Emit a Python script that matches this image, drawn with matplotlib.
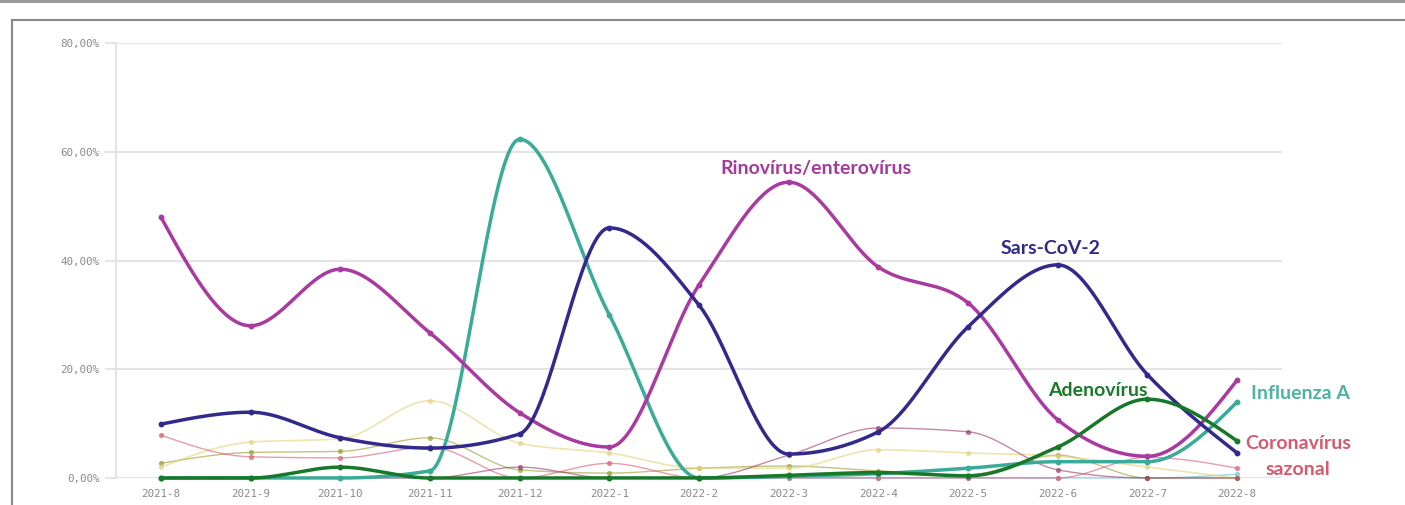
import numpy as np
import matplotlib.pyplot as plt
from matplotlib.lines import Line2D
from matplotlib.patches import Rectangle

months = ['2021-8', '2021-9', '2021-10', '2021-11', '2021-12', '2022-1', '2022-2',
          '2022-3', '2022-4', '2022-5', '2022-6', '2022-7', '2022-8']

# percentages
rino = [48.0, 28.0, 38.4, 26.7, 12.0, 5.7, 35.5, 54.4, 38.8, 32.2, 10.7, 4.0, 18.0]
sars = [9.9, 12.1, 7.4, 5.5, 8.1, 46.0, 31.8, 4.4, 8.5, 27.8, 39.2, 19.0, 4.6]
flu_a = [0, 0, 0, 1.3, 62.3, 30.0, 0, 0.3, 0.8, 1.8, 3.0, 3.0, 14.0]
adeno = [0, 0, 2.0, 0, 0, 0, 0, 0.5, 1.0, 0.4, 5.7, 14.5, 6.8]
corona = [7.9, 3.9, 3.7, 5.7, 0, 2.7, 0, 0, 0, 0, 0, 3.8, 1.8]
mauve = [0, 0, 0, 0, 2.0, 0, 0, 4.2, 9.2, 8.5, 1.5, 0, 0]
yellow = [2.0, 6.6, 7.2, 14.2, 6.4, 4.6, 1.8, 1.8, 5.2, 4.6, 4.0, 2.0, 0]
olive = [2.7, 4.7, 4.9, 7.4, 1.5, 0.9, 1.8, 2.2, 1.3, 0.6, 4.2, 0, 0]
cyan = [0, 0, 0, 0, 0, 0, 0, 0, 0, 0, 0, 0, 0.7]


# monotone cubic curve (like d3 curveMonotoneX) for drawing only
def smooth(y, n=40):
    y = np.asarray(y, float)
    x = np.arange(len(y), dtype=float)
    s = np.diff(y)
    t = np.zeros(len(y))
    for i in range(1, len(y) - 1):
        s0, s1 = s[i - 1], s[i]
        p = (s0 + s1) / 2
        t[i] = (np.sign(s0) + np.sign(s1)) * min(abs(s0), abs(s1), 0.5 * abs(p))
    t[0] = (3 * s[0] - t[1]) / 2
    t[-1] = (3 * s[-1] - t[-2]) / 2
    xs, ys = [], []
    for i in range(len(y) - 1):
        u = np.linspace(0, 1, n)
        h00 = 2 * u**3 - 3 * u**2 + 1
        h10 = u**3 - 2 * u**2 + u
        h01 = -2 * u**3 + 3 * u**2
        h11 = u**3 - u**2
        xs.append(x[i] + u)
        ys.append(h00 * y[i] + h10 * t[i] + h01 * y[i + 1] + h11 * t[i + 1])
    return np.concatenate(xs), np.concatenate(ys)


fig = plt.figure(figsize=(14.05, 5.05), dpi=100)
ax = fig.add_axes([116 / 1405, 27 / 505, (1282 - 116) / 1405, 435 / 505])

series = [
    (cyan, '#8fd0e8', 1.0, 0.9),
    (olive, '#9a9a30', 1.0, 0.6),
    (yellow, '#e2d27a', 1.2, 0.6),
    (mauve, '#9a3a6a', 1.0, 0.6),
    (corona, '#d85a72', 1.0, 0.6),
    (flu_a, '#3aab98', 2.5, 1.0),
    (rino, '#a83aa0', 2.5, 1.0),
    (sars, '#33298c', 2.5, 1.0),
    (adeno, '#18782a', 2.5, 1.0),
]
xi = np.arange(len(months))
for vals, col, lw, a in series:
    sx, sy = smooth(vals)
    ax.plot(sx, sy, color=col, lw=lw, alpha=a, clip_on=False, solid_capstyle='round')
    ax.plot(xi, vals, 'o', color=col, ms=3.2 if lw > 2 else 2.8, alpha=a, clip_on=False)

ax.set_xlim(-0.5, 12.5)
ax.set_ylim(0, 80)
ax.set_xticks(xi)
ax.set_xticklabels(months)
ax.set_yticks([0, 20, 40, 60, 80])
ax.set_yticklabels(['0,00%', '20,00%', '40,00%', '60,00%', '80,00%'])
for lab in ax.get_xticklabels() + ax.get_yticklabels():
    lab.set_family('DejaVu Sans Mono')
    lab.set_fontsize(7.8)
    lab.set_color('#8a8a8a')
ax.tick_params(axis='x', length=0, pad=8)
ax.tick_params(axis='y', length=8, color='#e4e4e4', width=1.5, pad=4)
ax.grid(axis='y', color='#e4e4e4', lw=1.5)
ax.set_axisbelow(True)
for sp in ['top', 'right', 'bottom']:
    ax.spines[sp].set_visible(False)
ax.spines['left'].set_color('#e4e4e4')
ax.spines['left'].set_linewidth(1.5)

# series labels
lab_kw = dict(fontfamily='Lato', fontweight='bold', fontsize=14, ha='center', va='center')
ax.text(7.3, 57.0, 'Rinovírus/enterovírus', color='#a53a9c', **lab_kw)
ax.text(9.92, 42.2, 'Sars-CoV-2', color='#2f2a88', **lab_kw)
ax.text(10.45, 16.0, 'Adenovírus', color='#1a7a2a', **lab_kw)
ax.text(12.7, 15.6, 'Influenza A', color='#4db3a3', clip_on=False, **lab_kw)
ax.text(12.68, 6.3, 'Coronavírus', color='#d45a70', clip_on=False, **lab_kw)
ax.text(12.68, 1.5, 'sazonal', color='#d45a70', clip_on=False, **lab_kw)

# frame of the page around the chart
fig.add_artist(Rectangle((0, 1 - 3 / 505), 1, 3 / 505, transform=fig.transFigure,
                         color='#9a9a9a', lw=0))
fig.add_artist(Line2D([12 / 1405, 1], [1 - 20 / 505] * 2, transform=fig.transFigure,
                      color='#8a8a8a', lw=1.5))
fig.add_artist(Line2D([12 / 1405] * 2, [0, 1 - 20 / 505], transform=fig.transFigure,
                      color='#8a8a8a', lw=1.5))

fig.savefig('out.png', dpi=100)
